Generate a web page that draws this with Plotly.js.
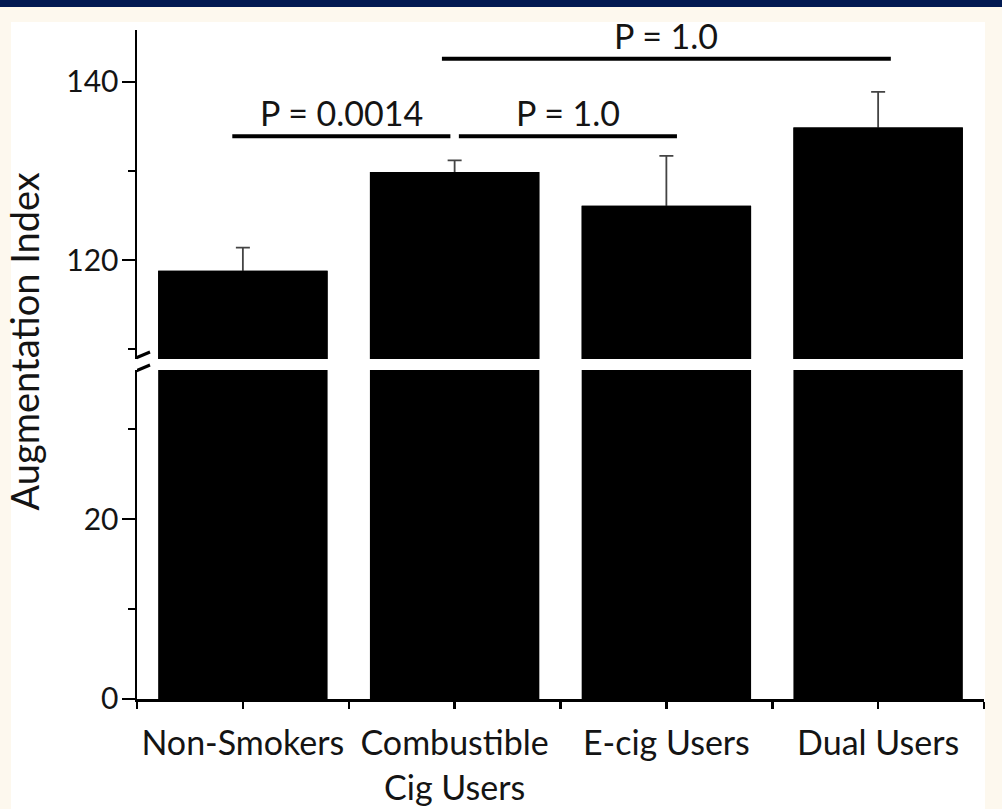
<!DOCTYPE html>
<html>
<head>
<meta charset="utf-8">
<script src="https://cdn.plot.ly/plotly-3.0.1.min.js"></script>
<style>
  html, body { margin: 0; padding: 0; width: 1002px; height: 809px; overflow: hidden; background: #fdf8ee; }
  #band { position: absolute; left: 0; top: 0; width: 1002px; height: 7px; background: #021a52; }
  #card { position: absolute; left: 11px; top: 22px; width: 974px; height: 787px; background: #ffffff; }
  #chart { position: absolute; left: 0; top: 0; width: 1002px; height: 809px; }
</style>
</head>
<body>
<div id="band"></div>
<div id="card"></div>
<div id="chart"></div>
<script>
// ---- data ----
const categories = ["Non-Smokers", "Combustible<br>Cig Users", "E-cig Users", "Dual Users"];
const augIndex = [118.8, 129.9, 126.1, 134.9];
const augErr = [2.6, 1.3, 5.6, 4.0];
const sigLabels = ["P = 0.0014", "P = 1.0", "P = 1.0"];
const sigFrom = [-0.05, 1.02, 0.94];
const sigTo = [0.98, 2.05, 3.06];
const sigLevel = [133.9, 133.9, 142.6];
const lowerTicks = [0, 20];
const upperTicks = [120, 140];

const xs = categories.map((c, i) => i);
const FONT = "Lato, 'Open Sans', sans-serif";

const barStyle = { color: "#000000", line: { width: 0 } };
const traces = [
  // lower panel (0 .. break)
  { type: "bar", x: xs, y: augIndex, xaxis: "x", yaxis: "y", width: 0.8, marker: barStyle,
    hoverinfo: "skip", showlegend: false },
  // upper panel: bars carrying the (upper-only) error bars ...
  { type: "bar", x: xs, y: augIndex, xaxis: "x", yaxis: "y2", width: 0.8, marker: barStyle,
    error_y: { type: "data", symmetric: false, array: augErr, arrayminus: augErr.map(() => 0.5),
               color: "#444444", thickness: 1.8, width: 7 },
    hoverinfo: "skip", showlegend: false },
  // ... and the same bars drawn again on top, hiding the lower whisker
  { type: "bar", x: xs, y: augIndex, xaxis: "x", yaxis: "y2", width: 0.8, marker: barStyle,
    hoverinfo: "skip", showlegend: false }
];

const shapes = [];
const annotations = [];
for (let i = 0; i < sigLabels.length; i++) {
  shapes.push({ type: "line", xref: "x", yref: "y2", x0: sigFrom[i], x1: sigTo[i],
                y0: sigLevel[i], y1: sigLevel[i], line: { color: "#000", width: 4 } });
  annotations.push({ xref: "x", yref: "y2", x: (sigFrom[i] + sigTo[i]) / 2, y: sigLevel[i],
                     text: sigLabels[i], showarrow: false, yanchor: "bottom", yshift: 1,
                     font: { family: FONT, size: 34, color: "#141414" } });
}
// axis break marks
[[-13, 1.5, 13, 12.5], [-13, -11.5, 13, -0.5]].forEach(s => {
  shapes.push({ type: "line", xref: "x", yref: "paper", xsizemode: "pixel", ysizemode: "pixel",
                xanchor: -0.5, yanchor: 0.5, x0: s[0], y0: s[1], x1: s[2], y1: s[3],
                line: { color: "#000", width: 3 } });
});
annotations.push({ xref: "paper", yref: "paper", x: -0.133, y: 0.535, textangle: -90,
                   text: "Augmentation Index", showarrow: false, xanchor: "center", yanchor: "middle",
                   font: { family: FONT, size: 38, color: "#141414" } });

const yCommon = {
  showline: true, linecolor: "#000", linewidth: 2.5, showgrid: false, zeroline: false,
  ticks: "outside", ticklen: 13, tickwidth: 2.5, tickcolor: "#000", ticklabelstandoff: -3,
  tickmode: "array", tickfont: { family: FONT, size: 30, color: "#141414" },
  minor: { tickmode: "linear", dtick: 10, tick0: 0, ticks: "outside", ticklen: 7, tickwidth: 2.5, tickcolor: "#000", showgrid: false },
  fixedrange: true
};

const layout = {
  width: 1002, height: 809,
  margin: { l: 137, r: 18, t: 30, b: 110 },
  paper_bgcolor: "rgba(0,0,0,0)", plot_bgcolor: "rgba(0,0,0,0)",
  barmode: "overlay",
  xaxis: {
    range: [-0.5, 3.5], anchor: "y", showline: true, linecolor: "#000", linewidth: 2.5,
    showgrid: false, zeroline: false, tickmode: "array", tickvals: xs, ticktext: categories,
    ticks: "outside", ticklen: 7, tickwidth: 2.5, tickcolor: "#000", ticklabelstandoff: 6,
    tickfont: { family: FONT, size: 34, color: "#141414" },
    minor: { tickmode: "linear", dtick: 0.5, tick0: -0.5, ticks: "outside", ticklen: 7, tickwidth: 2.5, tickcolor: "#000", showgrid: false },
    fixedrange: true
  },
  yaxis: Object.assign({}, yCommon, { domain: [0, 0.4918], range: [0, 36.56], anchor: "x",
                                      tickvals: lowerTicks, ticktext: lowerTicks.map(String) }),
  yaxis2: Object.assign({}, yCommon, { domain: [0.5082, 1], range: [108.88, 145.84], anchor: "x",
                                       tickvals: upperTicks, ticktext: upperTicks.map(String) }),
  shapes: shapes,
  annotations: annotations
};

Plotly.newPlot("chart", traces, layout, { displayModeBar: false, staticPlot: true });
</script>
</body>
</html>
